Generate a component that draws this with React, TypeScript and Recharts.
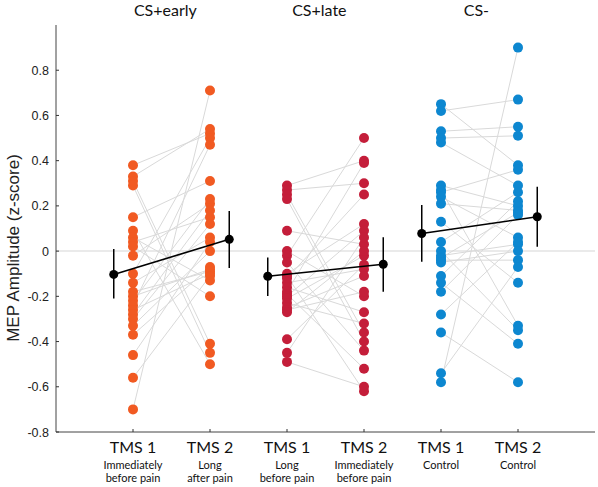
import { ComposedChart, Scatter, XAxis, YAxis, ReferenceLine, ErrorBar } from "recharts";

const W = 598;
const H = 487;
const PLOT_LEFT = 56;
const PLOT_BOTTOM = 432;

// group titles and x tick labels
const groups = ["CS+early", "CS+late", "CS-"];
const groupTitleX = [1.42, 3.42, 5.46];
const tmsLabels = ["TMS 1", "TMS 2", "TMS 1", "TMS 2", "TMS 1", "TMS 2"];
const tmsNotes = [
  ["Immediately", "before pain"],
  ["Long", "after pain"],
  ["Long", "before pain"],
  ["Immediately", "before pain"],
  ["Control"],
  ["Control"],
];
const groupColors = ["#F15A22", "#C41E3A", "#0D87D0"];
const yTicks = [-0.8, -0.6, -0.4, -0.2, 0, 0.2, 0.4, 0.6, 0.8];

// per-subject z-scores, same subject order in TMS1 and TMS2
const earlyTms1 = [0.38, 0.33, 0.31, 0.29, 0.15, 0.09, 0.06, 0.04, 0.02, -0.02, -0.1, -0.14, -0.18, -0.2, -0.22, -0.24, -0.26, -0.28, -0.3, -0.33, -0.37, -0.46, -0.56, -0.7];
const earlyTms2 = [0.52, 0.54, -0.41, -0.45, 0.31, -0.5, -0.13, 0.15, -0.2, 0.21, 0.5, 0.06, -0.09, -0.08, 0.23, 0.47, -0.1, 0.18, 0.12, 0.0, -0.07, 0.04, -0.11, 0.71];
const lateTms1 = [0.29, 0.27, 0.25, 0.23, 0.09, 0.0, -0.02, -0.05, -0.1, -0.11, -0.12, -0.14, -0.16, -0.18, -0.19, -0.2, -0.21, -0.23, -0.25, -0.26, -0.27, -0.39, -0.45, -0.49];
const lateTms2 = [0.4, 0.3, -0.36, -0.4, 0.03, -0.2, 0.5, -0.44, 0.12, -0.62, 0.25, -0.08, -0.27, 0.39, -0.52, 0.09, -0.02, -0.32, -0.11, -0.18, 0.0, -0.06, 0.06, -0.6];
const csMinusTms1 = [0.65, 0.62, 0.53, 0.5, 0.48, 0.29, 0.27, 0.26, 0.24, 0.21, 0.13, 0.04, 0.0, -0.02, -0.03, -0.04, -0.05, -0.11, -0.14, -0.18, -0.28, -0.36, -0.54, -0.58];
const csMinusTms2 = [0.38, 0.67, 0.55, 0.51, 0.29, 0.2, -0.33, 0.36, 0.06, 0.18, -0.14, 0.26, -0.35, 0.03, 0.17, -0.04, 0.0, 0.22, -0.41, 0.16, 0.04, -0.58, -0.07, 0.9];

// group means with error bar ends
const meanTms1 = [-0.103, -0.111, 0.078];
const lowTms1 = [-0.21, -0.198, -0.047];
const highTms1 = [0.009, -0.028, 0.204];
const meanTms2 = [0.052, -0.058, 0.152];
const lowTms2 = [-0.075, -0.18, 0.019];
const highTms2 = [0.177, 0.061, 0.285];

const subjects = [
  [earlyTms1, earlyTms2],
  [lateTms1, lateTms2],
  [csMinusTms1, csMinusTms2],
];

const pairLines = subjects.flatMap(([a, b], g) =>
  a.map((v, i) => [
    { x: 2 * g + 1, y: v },
    { x: 2 * g + 2, y: b[i] },
  ])
);

const pointSets = subjects.map(([a, b], g) => [
  ...a.map((v) => ({ x: 2 * g + 1, y: v })),
  ...b.map((v) => ({ x: 2 * g + 2, y: v })),
]);

const meanSets = groups.map((_, g) => [
  { x: 2 * g + 0.75, y: meanTms1[g], err: [meanTms1[g] - lowTms1[g], highTms1[g] - meanTms1[g]] },
  { x: 2 * g + 2.25, y: meanTms2[g], err: [meanTms2[g] - lowTms2[g], highTms2[g] - meanTms2[g]] },
]);

const titleData = groups.map((name, g) => ({ x: groupTitleX[g], y: 1, name }));

const sans = "'Liberation Sans', Arial, sans-serif";
const humanist = "Lato, 'Open Sans', sans-serif";

const BottomTick = (props: any) => {
  const { x, payload } = props;
  const i = payload.value - 1;
  return (
    <g>
      <line x1={x} x2={x} y1={PLOT_BOTTOM} y2={PLOT_BOTTOM - 3} stroke="#333" />
      <text x={x} y={PLOT_BOTTOM + 21} textAnchor="middle" fontFamily={humanist} fontSize={16} fill="#111">
        {tmsLabels[i]}
      </text>
      {tmsNotes[i].map((t, k) => (
        <text key={k} x={x} y={PLOT_BOTTOM + 37 + k * 13} textAnchor="middle" fontFamily={humanist} fontSize={11} fill="#111">
          {t}
        </text>
      ))}
    </g>
  );
};

const LeftTick = (props: any) => {
  const { y, payload } = props;
  const v = payload.value;
  return (
    <g>
      <line x1={PLOT_LEFT} x2={PLOT_LEFT + 3} y1={y} y2={y} stroke="#333" />
      <text x={PLOT_LEFT - 7} y={y + 4.5} textAnchor="end" fontFamily={sans} fontSize={12.5} fill="#222">
        {v === 0 ? "0" : v.toFixed(1)}
      </text>
    </g>
  );
};

const noDot = () => <g />;

export default function App() {
  return (
    <div style={{ position: "fixed", left: 0, top: 0, width: W, height: H, background: "#fff" }}>
      <ComposedChart width={W} height={H} margin={{ top: 25, right: 3, bottom: 0, left: 0 }}>
        <XAxis
          type="number"
          dataKey="x"
          domain={[0, 7]}
          ticks={[1, 2, 3, 4, 5, 6]}
          height={55}
          tickLine={false}
          tickSize={0}
          tick={<BottomTick />}
          axisLine={{ stroke: "#444" }}
        />
        <YAxis
          type="number"
          dataKey="y"
          domain={[-0.8, 1]}
          ticks={yTicks}
          width={56}
          tickLine={false}
          tickSize={0}
          tick={<LeftTick />}
          axisLine={{ stroke: "#444" }}
          label={{
            value: "MEP Amplitude (z-score)",
            content: () => (
              <text transform="translate(19,248) rotate(-90)" textAnchor="middle" fontFamily={sans} fontSize={17} fill="#222">
                MEP Amplitude (z-score)
              </text>
            ),
          }}
        />
        <ReferenceLine y={0} stroke="#e3e3e3" strokeWidth={1.5} />
        {pairLines.map((d, i) => (
          <Scatter
            key={"pair" + i}
            data={d}
            line={{ stroke: "#d9d9d9", strokeWidth: 1 }}
            shape={noDot}
            isAnimationActive={false}
          />
        ))}
        {pointSets.map((d, g) => (
          <Scatter
            key={"pts" + g}
            data={d}
            isAnimationActive={false}
            shape={(p: any) => <circle cx={p.cx} cy={p.cy} r={5} fill={groupColors[g]} />}
          />
        ))}
        {meanSets.map((d, g) => (
          <Scatter
            key={"mean" + g}
            data={d}
            line={{ stroke: "#000", strokeWidth: 1.6 }}
            isAnimationActive={false}
            shape={(p: any) => <circle cx={p.cx} cy={p.cy} r={4.5} fill="#000" />}
          >
            <ErrorBar dataKey="err" direction="y" width={0} stroke="#000" strokeWidth={1.5} isAnimationActive={false} />
          </Scatter>
        ))}
        <Scatter
          data={titleData}
          isAnimationActive={false}
          shape={(p: any) => (
            <text x={p.cx} y={16} textAnchor="middle" fontFamily={humanist} fontSize={16} fill="#111">
              {p.payload.name}
            </text>
          )}
        />
      </ComposedChart>
    </div>
  );
}
